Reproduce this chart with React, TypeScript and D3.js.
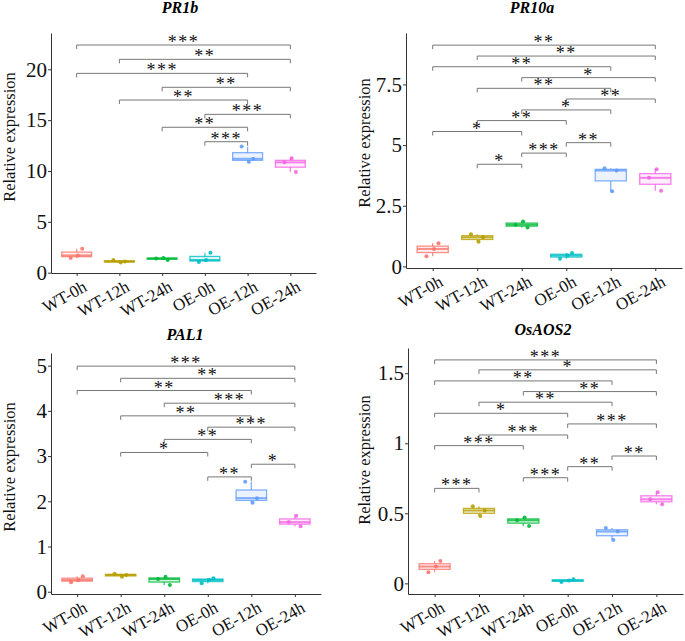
import React, { useEffect, useRef } from 'react';
import * as d3 from 'd3';

const groups = ['WT-0h', 'WT-12h', 'WT-24h', 'OE-0h', 'OE-12h', 'OE-24h'];
const groupColors = ['#F8766D', '#B79F00', '#00BA38', '#00BFC4', '#619CFF', '#F564E3'];

// replicate values per group
const pr1bValues = [
	[1.45, 1.7, 2.35],
	[1.0, 1.1, 1.25],
	[1.25, 1.4, 1.45],
	[1.05, 1.25, 1.95],
	[10.9, 11.2, 12.4],
	[9.9, 10.85, 11.25],
];
const pr1bTicks = [0, 5, 10, 15, 20];
// [from, to, height, label]
const pr1bSig = [
	[0, 5, 22.39, '***'],
	[1, 5, 20.98, '**'],
	[0, 4, 19.6, '***'],
	[2, 5, 18.23, '**'],
	[1, 4, 16.98, '**'],
	[3, 5, 15.57, '***'],
	[2, 4, 14.3, '**'],
	[3, 4, 12.88, '***'],
];

const pr10aValues = [
	[0.42, 0.72, 0.95],
	[1.02, 1.2, 1.33],
	[1.6, 1.72, 1.85],
	[0.32, 0.45, 0.55],
	[3.1, 3.95, 4.05],
	[3.12, 3.65, 4.0],
];
const pr10aTicks = [0, 2.5, 5, 7.5];
const pr10aSig = [
	[0, 5, 9.12, '**'],
	[1, 5, 8.67, '**'],
	[0, 4, 8.23, '**'],
	[2, 5, 7.78, '*'],
	[1, 4, 7.34, '**'],
	[3, 5, 6.9, '**'],
	[2, 4, 6.45, '*'],
	[1, 3, 6.01, '**'],
	[0, 2, 5.56, '*'],
	[3, 4, 5.1, '**'],
	[2, 3, 4.67, '***'],
	[1, 2, 4.21, '*'],
];

const pal1Values = [
	[0.21, 0.26, 0.34],
	[0.33, 0.37, 0.4],
	[0.15, 0.28, 0.33],
	[0.19, 0.26, 0.3],
	[1.97, 2.07, 2.43],
	[1.45, 1.54, 1.68],
];
const pal1Ticks = [0, 1, 2, 3, 4, 5];
const pal1Sig = [
	[0, 5, 4.99, '***'],
	[1, 5, 4.72, '**'],
	[0, 4, 4.45, '**'],
	[2, 5, 4.17, '***'],
	[1, 4, 3.89, '**'],
	[3, 5, 3.64, '***'],
	[2, 4, 3.37, '**'],
	[1, 3, 3.08, '*'],
	[4, 5, 2.82, '*'],
	[3, 4, 2.54, '**'],
];

const aos2Values = [
	[0.08, 0.12, 0.16],
	[0.48, 0.52, 0.55],
	[0.41, 0.45, 0.47],
	[0.01, 0.02, 0.03],
	[0.31, 0.37, 0.395],
	[0.565, 0.6, 0.65],
];
const aos2Ticks = [0, 0.5, 1, 1.5];
const aos2Sig = [
	[0, 5, 1.595, '***'],
	[1, 5, 1.524, '*'],
	[0, 4, 1.445, '**'],
	[2, 5, 1.369, '**'],
	[1, 4, 1.293, '**'],
	[0, 3, 1.214, '*'],
	[3, 5, 1.138, '***'],
	[1, 3, 1.059, '***'],
	[0, 2, 0.983, '***'],
	[4, 5, 0.909, '**'],
	[3, 4, 0.833, '**'],
	[2, 3, 0.754, '***'],
	[0, 1, 0.678, '***'],
];

const panels = [
	{ title: 'PR1b', values: pr1bValues, ticks: pr1bTicks, sig: pr1bSig, left: 51, right: 316, top: 33, bottom: 273, domain: [-0.03, 23.57], titleX: 180, titleY: 13, labelX: 15, labelY: 137 },
	{ title: 'PR10a', values: pr10aValues, ticks: pr10aTicks, sig: pr10aSig, left: 406, right: 682, top: 33, bottom: 268, domain: [-0.066, 9.62], titleX: 532, titleY: 13, labelX: 370, labelY: 143 },
	{ title: 'PAL1', values: pal1Values, ticks: pal1Ticks, sig: pal1Sig, left: 51, right: 321, top: 353, bottom: 594, domain: [-0.05, 5.28], titleX: 185, titleY: 340, labelX: 15, labelY: 467 },
	{ title: 'OsAOS2', values: aos2Values, ticks: aos2Ticks, sig: aos2Sig, left: 408, right: 683, top: 348, bottom: 594, domain: [-0.076, 1.68], titleX: 543, titleY: 335, labelX: 370, labelY: 460 },
];

const serif = '"Liberation Serif", "Times New Roman", serif';
const jitter = [-0.14, 0.03, 0.13];

function Panel({ p }) {
	const ref = useRef(null);

	useEffect(() => {
		const g = d3.select(ref.current);
		g.selectAll('*').remove();

		const x = d3.scalePoint().domain(groups).range([p.left, p.right]).padding(0.6);
		const y = d3.scaleLinear().domain(p.domain).range([p.bottom, p.top]);
		const step = x.step();
		const boxW = step * 0.7;

		// axes
		const yAxis = g
			.append('g')
			.attr('transform', 'translate(' + p.left + ',0)')
			.call(d3.axisLeft(y).tickValues(p.ticks).tickSize(3).tickSizeOuter(0).tickFormat(String));
		yAxis.select('.domain').attr('stroke', '#333');
		yAxis.selectAll('.tick line').attr('stroke', '#333');
		yAxis
			.selectAll('.tick text')
			.attr('font-family', serif)
			.attr('font-size', 21)
			.attr('fill', '#111')
			.attr('x', -4);

		const xAxis = g
			.append('g')
			.attr('transform', 'translate(0,' + p.bottom + ')')
			.call(d3.axisBottom(x).tickSize(3).tickSizeOuter(0));
		xAxis.select('.domain').attr('stroke', '#333');
		xAxis.selectAll('.tick line').attr('stroke', '#333');
		xAxis
			.selectAll('.tick text')
			.attr('font-family', serif)
			.attr('font-size', 17)
			.attr('fill', '#111')
			.attr('y', 0)
			.attr('dy', '0.35em')
			.attr('text-anchor', 'end')
			.attr('transform', 'translate(8,12) rotate(-29)');

		// boxes
		p.values.forEach((vals, i) => {
			const s = vals.slice().sort(d3.ascending);
			const q1 = d3.quantile(s, 0.25);
			const med = d3.quantile(s, 0.5);
			const q3 = d3.quantile(s, 0.75);
			const iqr = q3 - q1;
			const lo = d3.min(s.filter((v) => v >= q1 - 1.5 * iqr));
			const hi = d3.max(s.filter((v) => v <= q3 + 1.5 * iqr));
			const cx = x(groups[i]);
			const c = groupColors[i];
			const bg = g.append('g').attr('stroke', c).attr('stroke-opacity', 0.8);

			bg.append('line').attr('x1', cx).attr('x2', cx).attr('y1', y(q3)).attr('y2', y(hi)).attr('stroke-width', 1.3);
			bg.append('line').attr('x1', cx).attr('x2', cx).attr('y1', y(q1)).attr('y2', y(lo)).attr('stroke-width', 1.3);
			bg.append('rect')
				.attr('x', cx - boxW / 2)
				.attr('y', y(q3))
				.attr('width', boxW)
				.attr('height', Math.max(0.5, y(q1) - y(q3)))
				.attr('fill', c)
				.attr('fill-opacity', 0.12)
				.attr('stroke-width', 1.3);
			bg.append('line')
				.attr('x1', cx - boxW / 2)
				.attr('x2', cx + boxW / 2)
				.attr('y1', y(med))
				.attr('y2', y(med))
				.attr('stroke-width', 2);

			g.selectAll(null)
				.data(vals)
				.enter()
				.append('circle')
				.attr('cx', (d, k) => cx + jitter[(k + i) % 3] * step)
				.attr('cy', (d) => y(d))
				.attr('r', 2)
				.attr('fill', c)
				.attr('fill-opacity', 0.9);
		});

		// significance brackets
		p.sig.forEach(([a, b, h, label]) => {
			const x1 = x(groups[a]);
			const x2 = x(groups[b]);
			const yy = y(h);
			g.append('path')
				.attr('d', 'M' + x1 + ',' + (yy + 4) + 'V' + yy + 'H' + x2 + 'V' + (yy + 4))
				.attr('fill', 'none')
				.attr('stroke', '#777')
				.attr('stroke-width', 1);
			g.append('text')
				.attr('x', (x1 + x2) / 2)
				.attr('y', yy + 3)
				.attr('text-anchor', 'middle')
				.attr('font-family', serif)
				.attr('font-size', 18)
				.attr('letter-spacing', 1.5)
				.attr('fill', '#111')
				.text(label);
		});

		g.append('text')
			.attr('x', p.titleX)
			.attr('y', p.titleY)
			.attr('text-anchor', 'middle')
			.attr('font-family', serif)
			.attr('font-size', 16)
			.attr('font-weight', 'bold')
			.attr('font-style', 'italic')
			.text(p.title);

		g.append('text')
			.attr('transform', 'translate(' + p.labelX + ',' + p.labelY + ') rotate(-90)')
			.attr('text-anchor', 'middle')
			.attr('font-family', serif)
			.attr('font-size', 16.5)
			.attr('fill', '#111')
			.text('Relative expression');
	}, [p]);

	return <g ref={ref} />;
}

export default function App() {
	return (
		<svg width={685} height={641} style={{ position: 'absolute', left: 0, top: 0, background: '#fff' }}>
			{panels.map((p) => (
				<Panel key={p.title} p={p} />
			))}
		</svg>
	);
}
